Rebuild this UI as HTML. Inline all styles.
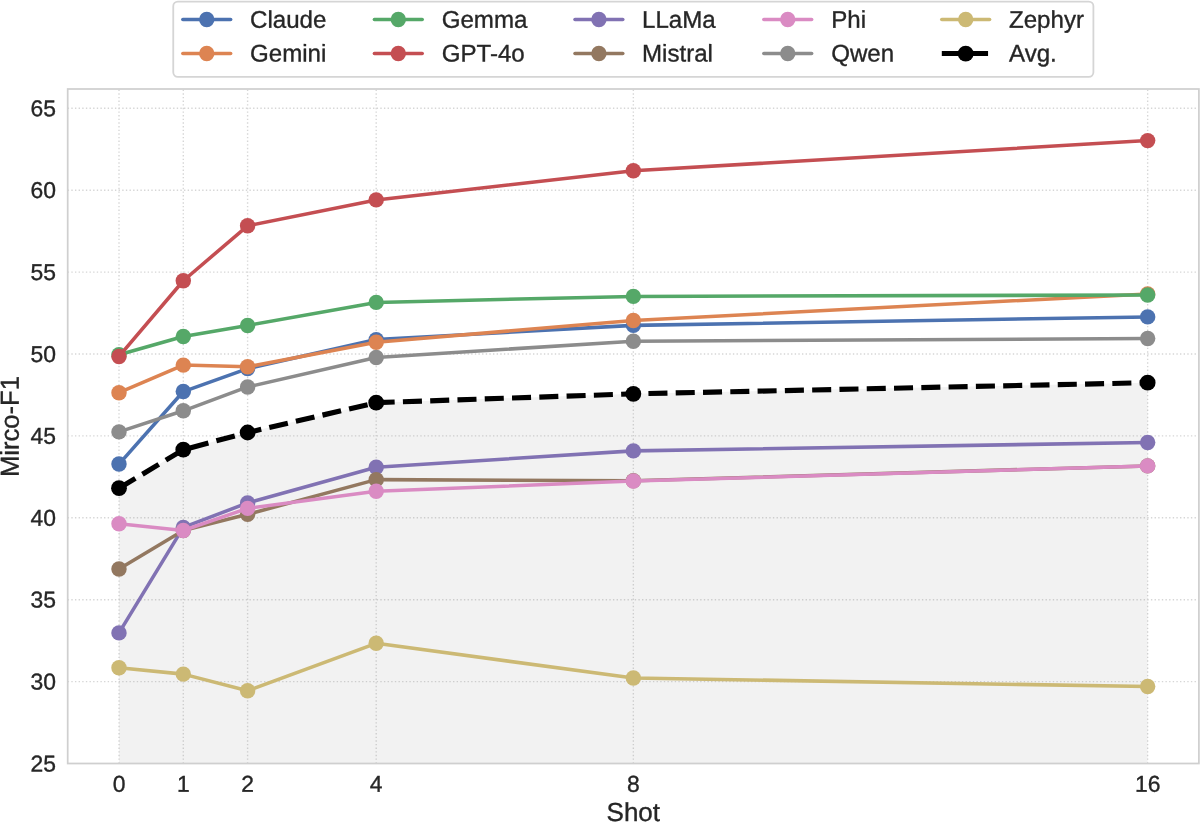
<!DOCTYPE html>
<html><head><meta charset="utf-8"><title>Micro-F1 by Shot</title>
<style>
html,body{margin:0;padding:0;background:#fff;}
body{width:1200px;height:822px;overflow:hidden;}
svg{display:block;will-change:transform;}
text{font-family:"Liberation Sans",sans-serif;fill:#262626;stroke:#262626;stroke-width:0.35px;}
.tk{font-size:22.9px;}
.lb{font-size:26.0px;}
.lg{font-size:24.1px;}
</style></head><body>
<svg width="1200" height="822" viewBox="0 0 1200 822">
<rect x="0" y="0" width="1200" height="822" fill="#ffffff"/>
<g stroke="#d6d6d6" stroke-width="1.38" stroke-dasharray="1.372 2.263" fill="none">
<line x1="119.00" y1="763.50" x2="119.00" y2="89.00"/>
<line x1="183.30" y1="763.50" x2="183.30" y2="89.00"/>
<line x1="247.60" y1="763.50" x2="247.60" y2="89.00"/>
<line x1="376.20" y1="763.50" x2="376.20" y2="89.00"/>
<line x1="633.35" y1="763.50" x2="633.35" y2="89.00"/>
<line x1="1147.65" y1="763.50" x2="1147.65" y2="89.00"/>
<line x1="67.70" y1="681.60" x2="1198.90" y2="681.60"/>
<line x1="67.70" y1="599.70" x2="1198.90" y2="599.70"/>
<line x1="67.70" y1="517.80" x2="1198.90" y2="517.80"/>
<line x1="67.70" y1="435.90" x2="1198.90" y2="435.90"/>
<line x1="67.70" y1="354.00" x2="1198.90" y2="354.00"/>
<line x1="67.70" y1="272.10" x2="1198.90" y2="272.10"/>
<line x1="67.70" y1="190.20" x2="1198.90" y2="190.20"/>
<line x1="67.70" y1="108.30" x2="1198.90" y2="108.30"/>
</g>
<polygon points="119.00,488.20 183.30,449.70 247.60,432.50 376.20,402.66 633.35,393.85 1147.65,382.70 1147.65,763.50 119.00,763.50" fill="#808080" fill-opacity="0.1"/>
<g><polyline points="119.00,464.07 183.30,391.55 247.60,368.55 376.20,339.60 633.35,325.37 1147.65,316.90" fill="none" stroke="#4c72b0" stroke-width="3.55" stroke-linecap="round" stroke-linejoin="round"/>
<circle cx="119.00" cy="464.07" r="7.72" fill="#4c72b0"/><circle cx="183.30" cy="391.55" r="7.72" fill="#4c72b0"/><circle cx="247.60" cy="368.55" r="7.72" fill="#4c72b0"/><circle cx="376.20" cy="339.60" r="7.72" fill="#4c72b0"/><circle cx="633.35" cy="325.37" r="7.72" fill="#4c72b0"/><circle cx="1147.65" cy="316.90" r="7.72" fill="#4c72b0"/></g>
<g><polyline points="119.00,392.70 183.30,365.10 247.60,366.80 376.20,342.18 633.35,320.43 1147.65,293.90" fill="none" stroke="#dd8452" stroke-width="3.55" stroke-linecap="round" stroke-linejoin="round"/>
<circle cx="119.00" cy="392.70" r="7.72" fill="#dd8452"/><circle cx="183.30" cy="365.10" r="7.72" fill="#dd8452"/><circle cx="247.60" cy="366.80" r="7.72" fill="#dd8452"/><circle cx="376.20" cy="342.18" r="7.72" fill="#dd8452"/><circle cx="633.35" cy="320.43" r="7.72" fill="#dd8452"/><circle cx="1147.65" cy="293.90" r="7.72" fill="#dd8452"/></g>
<g><polyline points="119.00,354.80 183.30,336.50 247.60,325.45 376.20,302.40 633.35,296.40 1147.65,295.00" fill="none" stroke="#55a868" stroke-width="3.55" stroke-linecap="round" stroke-linejoin="round"/>
<circle cx="119.00" cy="354.80" r="7.72" fill="#55a868"/><circle cx="183.30" cy="336.50" r="7.72" fill="#55a868"/><circle cx="247.60" cy="325.45" r="7.72" fill="#55a868"/><circle cx="376.20" cy="302.40" r="7.72" fill="#55a868"/><circle cx="633.35" cy="296.40" r="7.72" fill="#55a868"/><circle cx="1147.65" cy="295.00" r="7.72" fill="#55a868"/></g>
<g><polyline points="119.00,356.45 183.30,280.74 247.60,225.81 376.20,199.90 633.35,170.80 1147.65,140.60" fill="none" stroke="#c44e52" stroke-width="3.55" stroke-linecap="round" stroke-linejoin="round"/>
<circle cx="119.00" cy="356.45" r="7.72" fill="#c44e52"/><circle cx="183.30" cy="280.74" r="7.72" fill="#c44e52"/><circle cx="247.60" cy="225.81" r="7.72" fill="#c44e52"/><circle cx="376.20" cy="199.90" r="7.72" fill="#c44e52"/><circle cx="633.35" cy="170.80" r="7.72" fill="#c44e52"/><circle cx="1147.65" cy="140.60" r="7.72" fill="#c44e52"/></g>
<g><polyline points="119.00,632.90 183.30,527.40 247.60,502.90 376.20,467.19 633.35,450.89 1147.65,442.50" fill="none" stroke="#8172b3" stroke-width="3.55" stroke-linecap="round" stroke-linejoin="round"/>
<circle cx="119.00" cy="632.90" r="7.72" fill="#8172b3"/><circle cx="183.30" cy="527.40" r="7.72" fill="#8172b3"/><circle cx="247.60" cy="502.90" r="7.72" fill="#8172b3"/><circle cx="376.20" cy="467.19" r="7.72" fill="#8172b3"/><circle cx="633.35" cy="450.89" r="7.72" fill="#8172b3"/><circle cx="1147.65" cy="442.50" r="7.72" fill="#8172b3"/></g>
<g><polyline points="119.00,569.03 183.30,530.60 247.60,514.30 376.20,479.63 633.35,480.70 1147.65,465.90" fill="none" stroke="#937860" stroke-width="3.55" stroke-linecap="round" stroke-linejoin="round"/>
<circle cx="119.00" cy="569.03" r="7.72" fill="#937860"/><circle cx="183.30" cy="530.60" r="7.72" fill="#937860"/><circle cx="247.60" cy="514.30" r="7.72" fill="#937860"/><circle cx="376.20" cy="479.63" r="7.72" fill="#937860"/><circle cx="633.35" cy="480.70" r="7.72" fill="#937860"/><circle cx="1147.65" cy="465.90" r="7.72" fill="#937860"/></g>
<g><polyline points="119.00,523.70 183.30,530.50 247.60,508.40 376.20,491.20 633.35,481.04 1147.65,465.90" fill="none" stroke="#da8bc3" stroke-width="3.55" stroke-linecap="round" stroke-linejoin="round"/>
<circle cx="119.00" cy="523.70" r="7.72" fill="#da8bc3"/><circle cx="183.30" cy="530.50" r="7.72" fill="#da8bc3"/><circle cx="247.60" cy="508.40" r="7.72" fill="#da8bc3"/><circle cx="376.20" cy="491.20" r="7.72" fill="#da8bc3"/><circle cx="633.35" cy="481.04" r="7.72" fill="#da8bc3"/><circle cx="1147.65" cy="465.90" r="7.72" fill="#da8bc3"/></g>
<g><polyline points="119.00,431.90 183.30,410.80 247.60,386.95 376.20,357.50 633.35,341.20 1147.65,338.53" fill="none" stroke="#8c8c8c" stroke-width="3.55" stroke-linecap="round" stroke-linejoin="round"/>
<circle cx="119.00" cy="431.90" r="7.72" fill="#8c8c8c"/><circle cx="183.30" cy="410.80" r="7.72" fill="#8c8c8c"/><circle cx="247.60" cy="386.95" r="7.72" fill="#8c8c8c"/><circle cx="376.20" cy="357.50" r="7.72" fill="#8c8c8c"/><circle cx="633.35" cy="341.20" r="7.72" fill="#8c8c8c"/><circle cx="1147.65" cy="338.53" r="7.72" fill="#8c8c8c"/></g>
<g><polyline points="119.00,667.67 183.30,674.14 247.60,690.83 376.20,643.30 633.35,678.00 1147.65,686.56" fill="none" stroke="#ccb974" stroke-width="3.55" stroke-linecap="round" stroke-linejoin="round"/>
<circle cx="119.00" cy="667.67" r="7.72" fill="#ccb974"/><circle cx="183.30" cy="674.14" r="7.72" fill="#ccb974"/><circle cx="247.60" cy="690.83" r="7.72" fill="#ccb974"/><circle cx="376.20" cy="643.30" r="7.72" fill="#ccb974"/><circle cx="633.35" cy="678.00" r="7.72" fill="#ccb974"/><circle cx="1147.65" cy="686.56" r="7.72" fill="#ccb974"/></g>
<g><polyline points="119.00,488.20 183.30,449.70 247.60,432.50 376.20,402.66 633.35,393.85 1147.65,382.70" fill="none" stroke="#000" stroke-width="5.14" stroke-dasharray="19.05 8.245" stroke-linejoin="round"/>
<circle cx="119.00" cy="488.20" r="7.9" fill="#000"/><circle cx="183.30" cy="449.70" r="7.9" fill="#000"/><circle cx="247.60" cy="432.50" r="7.9" fill="#000"/><circle cx="376.20" cy="402.66" r="7.9" fill="#000"/><circle cx="633.35" cy="393.85" r="7.9" fill="#000"/><circle cx="1147.65" cy="382.70" r="7.9" fill="#000"/></g>
<rect x="67.70" y="89.00" width="1131.20" height="674.50" fill="none" stroke="#cfcfcf" stroke-width="1.74"/>
<text class="tk" transform="translate(55.90 771.40) rotate(0.03) scale(1 1.0)" text-anchor="end">25</text>
<text class="tk" transform="translate(55.90 689.50) rotate(0.03) scale(1 1.0)" text-anchor="end">30</text>
<text class="tk" transform="translate(55.90 607.60) rotate(0.03) scale(1 1.0)" text-anchor="end">35</text>
<text class="tk" transform="translate(55.90 525.70) rotate(0.03) scale(1 1.0)" text-anchor="end">40</text>
<text class="tk" transform="translate(55.90 443.80) rotate(0.03) scale(1 1.0)" text-anchor="end">45</text>
<text class="tk" transform="translate(55.90 361.90) rotate(0.03) scale(1 1.0)" text-anchor="end">50</text>
<text class="tk" transform="translate(55.90 280.00) rotate(0.03) scale(1 1.0)" text-anchor="end">55</text>
<text class="tk" transform="translate(55.90 198.10) rotate(0.03) scale(1 1.0)" text-anchor="end">60</text>
<text class="tk" transform="translate(55.90 116.20) rotate(0.03) scale(1 1.0)" text-anchor="end">65</text>
<text class="tk" transform="translate(119.00 791.70) rotate(0.03) scale(1 1.0)" text-anchor="middle">0</text>
<text class="tk" transform="translate(183.30 791.70) rotate(0.03) scale(1 1.0)" text-anchor="middle">1</text>
<text class="tk" transform="translate(247.60 791.70) rotate(0.03) scale(1 1.0)" text-anchor="middle">2</text>
<text class="tk" transform="translate(376.20 791.70) rotate(0.03) scale(1 1.0)" text-anchor="middle">4</text>
<text class="tk" transform="translate(633.35 791.70) rotate(0.03) scale(1 1.0)" text-anchor="middle">8</text>
<text class="tk" transform="translate(1147.65 791.70) rotate(0.03) scale(1 1.0)" text-anchor="middle">16</text>
<text class="lb" transform="translate(633.30 821.00) rotate(0.03) scale(1 1.0)" text-anchor="middle">Shot</text>
<text class="lb" transform="translate(18.8 426.6) rotate(-89.97) scale(0.985 1)" text-anchor="middle">Mirco-F1</text>
<rect x="173.25" y="1.55" width="920.15" height="75.3" rx="4.6" ry="4.6" fill="#ffffff" stroke="#d5d5d5" stroke-width="1.8"/>
<line x1="182.85" y1="19.50" x2="230.65" y2="19.50" stroke="#4c72b0" stroke-width="3.55" stroke-linecap="round"/><circle cx="206.75" cy="19.50" r="7.72" fill="#4c72b0"/>
<text class="lg" transform="translate(250.00 27.80) rotate(0.03) scale(1 1.0)">Claude</text>
<line x1="182.85" y1="53.55" x2="230.65" y2="53.55" stroke="#dd8452" stroke-width="3.55" stroke-linecap="round"/><circle cx="206.75" cy="53.55" r="7.72" fill="#dd8452"/>
<text class="lg" transform="translate(250.00 61.40) rotate(0.03) scale(1 1.0)">Gemini</text>
<line x1="374.40" y1="19.50" x2="422.20" y2="19.50" stroke="#55a868" stroke-width="3.55" stroke-linecap="round"/><circle cx="398.30" cy="19.50" r="7.72" fill="#55a868"/>
<text class="lg" transform="translate(441.70 27.80) rotate(0.03) scale(1 1.0)">Gemma</text>
<line x1="374.40" y1="53.55" x2="422.20" y2="53.55" stroke="#c44e52" stroke-width="3.55" stroke-linecap="round"/><circle cx="398.30" cy="53.55" r="7.72" fill="#c44e52"/>
<text class="lg" transform="translate(441.70 61.40) rotate(0.03) scale(1 1.0)">GPT-4o</text>
<line x1="575.00" y1="19.50" x2="622.80" y2="19.50" stroke="#8172b3" stroke-width="3.55" stroke-linecap="round"/><circle cx="598.90" cy="19.50" r="7.72" fill="#8172b3"/>
<text class="lg" transform="translate(642.00 27.80) rotate(0.03) scale(1 1.0)">LLaMa</text>
<line x1="575.00" y1="53.55" x2="622.80" y2="53.55" stroke="#937860" stroke-width="3.55" stroke-linecap="round"/><circle cx="598.90" cy="53.55" r="7.72" fill="#937860"/>
<text class="lg" transform="translate(642.00 61.40) rotate(0.03) scale(1 1.0)">Mistral</text>
<line x1="763.85" y1="19.50" x2="811.65" y2="19.50" stroke="#da8bc3" stroke-width="3.55" stroke-linecap="round"/><circle cx="787.75" cy="19.50" r="7.72" fill="#da8bc3"/>
<text class="lg" transform="translate(831.20 27.80) rotate(0.03) scale(1 1.0)">Phi</text>
<line x1="763.85" y1="53.55" x2="811.65" y2="53.55" stroke="#8c8c8c" stroke-width="3.55" stroke-linecap="round"/><circle cx="787.75" cy="53.55" r="7.72" fill="#8c8c8c"/>
<text class="lg" transform="translate(831.20 61.40) rotate(0.03) scale(1 1.0)">Qwen</text>
<line x1="941.80" y1="19.50" x2="989.60" y2="19.50" stroke="#ccb974" stroke-width="3.55" stroke-linecap="round"/><circle cx="965.70" cy="19.50" r="7.72" fill="#ccb974"/>
<text class="lg" transform="translate(1009.00 27.80) rotate(0.03) scale(1 1.0)">Zephyr</text>
<line x1="941.80" y1="53.55" x2="989.60" y2="53.55" stroke="#000" stroke-width="5.14" stroke-dasharray="19.02 8.22"/><circle cx="965.70" cy="53.55" r="7.9" fill="#000"/>
<text class="lg" transform="translate(1009.00 61.40) rotate(0.03) scale(1 1.0)">Avg.</text>
</svg>
</body></html>
